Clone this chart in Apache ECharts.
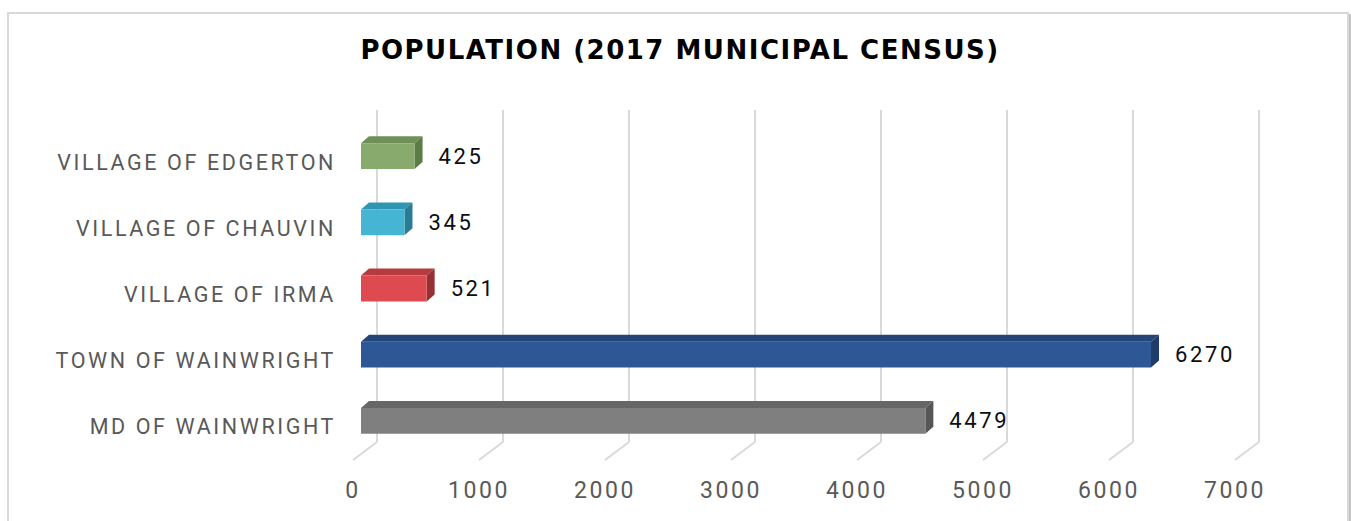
<!DOCTYPE html>
<html>
<head>
<meta charset="utf-8">
<title>Population (2017 Municipal Census)</title>
<script src="https://cdn.jsdelivr.net/npm/echarts@6/dist/echarts.min.js"></script>
<style>
  html, body { margin: 0; padding: 0; background: #fff; }
  #main { width: 1351px; height: 521px; }
  /* excel style character spacing */
  #main text { letter-spacing: 2.6px; }
  #main text[style*="bold"] { letter-spacing: 1.5px; }
</style>
</head>
<body>
<div id="main"></div>
<script>
// categories listed bottom to top
var categories = ['MD OF WAINWRIGHT', 'TOWN OF WAINWRIGHT', 'VILLAGE OF IRMA', 'VILLAGE OF CHAUVIN', 'VILLAGE OF EDGERTON'];
var population = [4479, 6270, 521, 345, 425];
var tickValues = [0, 1000, 2000, 3000, 4000, 5000, 6000, 7000];

// front / top / side shades of each bar
var barColors = [
  { front: '#7f7f7f', top: '#666666', side: '#565656' },
  { front: '#2e5795', top: '#23457a', side: '#1f3b68' },
  { front: '#dd4a4f', top: '#b63b3f', side: '#963035' },
  { front: '#46b5d4', top: '#3094b3', side: '#2a7b94' },
  { front: '#88aa6c', top: '#6f8f56', side: '#5d7b47' }
];

// depth of the pseudo 3d boxes
var DEPTH_X = 8, DEPTH_Y = 7;
var FRONT_DX = 8, FRONT_DY = -6;
var WALL_DX = 24, WALL_DY = 18;

function renderBar(params, api) {
  var v = api.value(0), c = api.value(1);
  var p0 = api.coord([0, c]);
  var p1 = api.coord([v, c]);
  var h = api.size([0, 1])[1] * 0.39;
  var x0 = p0[0] + FRONT_DX, x1 = p1[0] + FRONT_DX;
  var yc = p0[1] + FRONT_DY;
  var y0 = yc - h / 2, y1 = yc + h / 2;
  var col = barColors[params.dataIndex];
  return {
    type: 'group',
    children: [
      { type: 'polygon', shape: { points: [[x0, y0], [x0 + DEPTH_X, y0 - DEPTH_Y], [x1 + DEPTH_X, y0 - DEPTH_Y], [x1, y0]] }, style: { fill: col.top } },
      { type: 'polygon', shape: { points: [[x1, y0], [x1 + DEPTH_X, y0 - DEPTH_Y], [x1 + DEPTH_X, y1 - DEPTH_Y], [x1, y1]] }, style: { fill: col.side } },
      { type: 'rect', shape: { x: x0, y: y0, width: x1 - x0, height: y1 - y0 }, style: { fill: col.front } },
      { type: 'text', x: x1 + 24, y: yc, style: { text: String(v), fill: '#0d0d0d', fontSize: 22, fontFamily: 'Roboto', align: 'left', verticalAlign: 'middle' } }
    ]
  };
}

// slanted floor lines joining the wall grid to the tick labels
function renderFloor(params, api) {
  var p = api.coord([api.value(0), 0]);
  var yb = params.coordSys.y + params.coordSys.height;
  return {
    type: 'line',
    shape: { x1: p[0], y1: yb, x2: p[0] + WALL_DX, y2: yb - WALL_DY },
    style: { stroke: '#d9d9d9', lineWidth: 2 }
  };
}

var myChart = echarts.init(document.getElementById('main'), null, { renderer: 'svg' });

var option = {
  backgroundColor: '#fff',
  animation: false,
  title: {
    text: 'POPULATION (2017 MUNICIPAL CENSUS)',
    left: 680,
    top: 37,
    padding: 0,
    textAlign: 'center',
    textStyle: { fontFamily: 'DejaVu Sans', fontWeight: 'bold', fontSize: 26, color: '#000' }
  },
  graphic: [
    { type: 'rect', shape: { x: 8, y: 13, width: 1340, height: 530 }, style: { fill: 'none', stroke: '#d9d9d9', lineWidth: 2 }, z: -10 },
    { type: 'line', shape: { x1: 1350, y1: 14, x2: 1350, y2: 521 }, style: { stroke: '#c4c4c4', lineWidth: 2 }, z: -10 }
  ],
  grid: [
    { left: 377, right: 92, top: 110, bottom: 79 },
    { left: 353, right: 116, top: 129, bottom: 61 }
  ],
  xAxis: [
    {
      gridIndex: 0, type: 'value', min: 0, max: 7000, interval: 1000,
      axisLine: { show: false }, axisTick: { show: false }, axisLabel: { show: false },
      splitLine: { show: true, lineStyle: { color: '#d9d9d9', width: 2 } }
    },
    {
      gridIndex: 1, type: 'value', min: 0, max: 7000, interval: 1000,
      axisLine: { show: false }, axisTick: { show: false }, splitLine: { show: false },
      axisLabel: {
        margin: 19, fontFamily: 'Roboto', fontSize: 23, color: '#595959',
        formatter: function (v) { return String(v); }
      }
    }
  ],
  yAxis: [
    { gridIndex: 0, type: 'value', show: false },
    {
      gridIndex: 1, type: 'category', data: categories,
      axisLine: { show: false }, axisTick: { show: false }, splitLine: { show: false },
      axisLabel: { margin: 17, fontFamily: 'Roboto', fontSize: 21.5, color: '#595959' }
    }
  ],
  series: [
    {
      type: 'custom',
      xAxisIndex: 1, yAxisIndex: 1,
      renderItem: renderFloor,
      data: tickValues.map(function (t) { return [t, 0]; }),
      z: 1
    },
    {
      type: 'custom',
      xAxisIndex: 1, yAxisIndex: 1,
      renderItem: renderBar,
      encode: { x: 0, y: 1 },
      data: population.map(function (v, i) { return [v, i]; }),
      z: 5
    }
  ]
};

myChart.setOption(option);
</script>
</body>
</html>
